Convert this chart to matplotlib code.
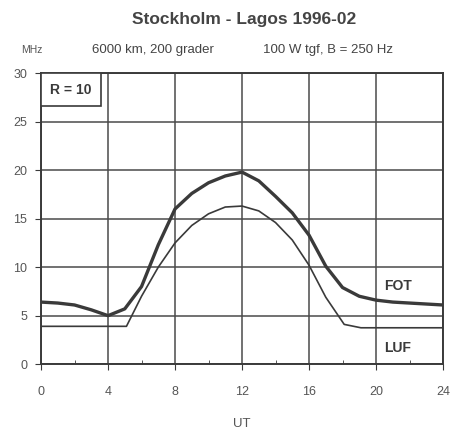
import matplotlib
matplotlib.use("Agg")
import matplotlib.pyplot as plt
from matplotlib.patches import Rectangle

plt.rcParams['font.family'] = ['Liberation Sans', 'DejaVu Sans']

# timmar UT
hours = list(range(0, 25))
fot = [6.4, 6.3, 6.1, 5.6, 5.0, 5.7, 8.0, 12.3, 16.0, 17.6, 18.7, 19.4, 19.8,
       18.9, 17.3, 15.6, 13.3, 10.1, 7.9, 7.0, 6.6, 6.4, 6.3, 6.2, 6.1]
luf_x = [0, 5.1, 6, 7, 8, 9, 10, 11, 12, 13, 14, 15, 16, 17, 18.1, 19.1, 20, 24]
luf = [3.9, 3.9, 7.0, 10.0, 12.5, 14.3, 15.5, 16.2, 16.3, 15.8, 14.6, 12.8,
       10.2, 6.9, 4.1, 3.75, 3.75, 3.75]

xticks = [0, 4, 8, 12, 16, 20, 24]
yticks = [0, 5, 10, 15, 20, 25, 30]

ink = '#3a3a3a'

fig = plt.figure(figsize=(4.61, 4.33), dpi=100)
ax = fig.add_axes([0.089, 0.159, 0.872, 0.672])

ax.plot(hours, fot, color=ink, lw=2.4, zorder=3)
ax.plot(luf_x, luf, color=ink, lw=1.2, zorder=3)

ax.set_xlim(0, 24)
ax.set_ylim(0, 30)
ax.set_xticks(xticks)
ax.set_yticks(yticks)
ax.set_xticks([2, 6, 10, 14, 18, 22], minor=True)
ax.grid(True, color='#4a4a4a', lw=1.1)
ax.tick_params(axis='x', which='major', direction='out', length=4, color=ink,
               labelsize=9, labelcolor='#555555', pad=12)
ax.tick_params(axis='x', which='minor', direction='in', length=3, color=ink)
ax.tick_params(axis='y', direction='out', length=4, color=ink,
               labelsize=9, labelcolor='#555555', pad=6)
for s in ax.spines.values():
    s.set_color(ink)
    s.set_linewidth(1.4)

# R-ruta i övre vänstra hörnet
ax.add_patch(Rectangle((0, 26.6), 3.6, 3.4, fc='white', ec=ink, lw=1.2, zorder=4))
ax.text(1.8, 28.3, 'R = 10', fontsize=10, fontweight='bold', color=ink,
        va='center', ha='center', zorder=5)
ax.text(20.5, 7.6, 'FOT', fontsize=10, fontweight='bold', color=ink)
ax.text(20.5, 1.3, 'LUF', fontsize=10, fontweight='bold', color=ink)

fig.text(0.53, 0.954, 'Stockholm - Lagos 1996-02', ha='center', va='center',
         fontsize=12.5, fontweight='bold', color='#444444')
fig.text(0.069, 0.885, 'MHz', ha='center', va='center', fontsize=7.5, color='#555555')
fig.text(0.332, 0.885, '6000 km, 200 grader', ha='center', va='center',
         fontsize=9.5, color='#444444')
fig.text(0.711, 0.885, '100 W tgf, B = 250 Hz', ha='center', va='center',
         fontsize=9.5, color='#444444')
ax.set_xlabel('UT', fontsize=9.5, color='#555555', labelpad=14)

fig.savefig('out.png', dpi=100, facecolor='white')
